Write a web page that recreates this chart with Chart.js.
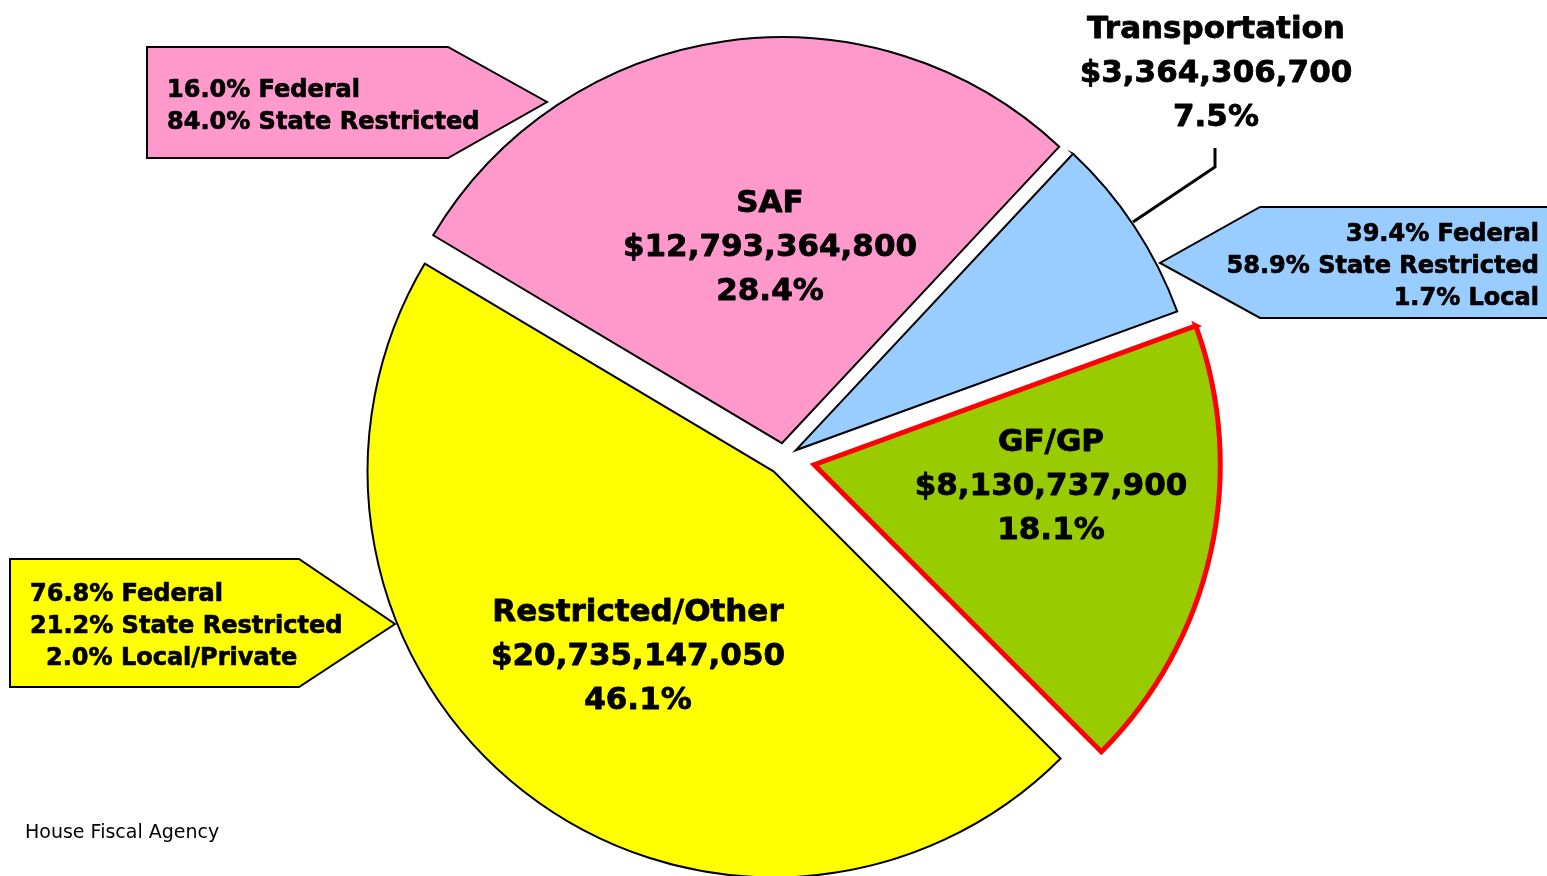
<!DOCTYPE html>
<html>
<head>
<meta charset="utf-8">
<title>Budget by Fund Source</title>
<script src="https://cdn.jsdelivr.net/npm/chart.js@4.4.1/dist/chart.umd.min.js"></script>
<style>
  html, body { margin: 0; padding: 0; background: #fff; overflow: hidden; }
  #chart-funds { display: block; }
</style>
</head>
<body>
<canvas id="chart-funds" width="1547" height="876"></canvas>
<script>
// Fund sources, in drawing order (clockwise from the SAF slice)
const categories = ["SAF", "Transportation", "GF/GP", "Restricted/Other"];
const amounts = [12793364800, 3364306700, 8130737900, 20735147050];
const fills = ["#FF99CC", "#99CCFF", "#99CC00", "#FFFF00"];
const borders = ["#000000", "#000000", "#FF0000", "#000000"];
const borderWidths = [2, 2, 5, 2];

// Breakdown of each fund source (GF/GP has none)
const splitLines = [
  ["16.0% Federal", "84.0% State Restricted"],
  ["39.4% Federal", "58.9% State Restricted", "1.7% Local"],
  null,
  ["76.8% Federal", "21.2% State Restricted", "2.0% Local/Private"]
];

// how far each slice is pulled out from the middle (px)
const explode = [15, 14, 31, 17];

const total = amounts.reduce((s, v) => s + v, 0);
const BOLD = "bold 31px 'DejaVu Sans', Verdana, sans-serif";
const SMALL_BOLD = "bold 24px 'DejaVu Sans', Verdana, sans-serif";

// slice title blocks: x centre + baseline of first line
const titlePos = [
  { x: 770, y: 212 },
  { x: 1216, y: 38 },
  { x: 1051, y: 451 },
  { x: 638, y: 621 }
];

// callout boxes with arrow tips pointing at the slices
const callouts = [
  { shape: [[147, 47], [448, 47], [547, 102], [448, 158], [147, 158]], x: 167, y: 97, align: "left", indent: [0, 0] },
  { shape: [[1560, 207], [1260, 207], [1160, 263], [1260, 318], [1560, 318]], x: 1539, y: 241, align: "right", indent: [0, 0, 0] },
  null,
  { shape: [[10, 559], [299, 559], [395, 624], [299, 687], [10, 687]], x: 30, y: 601, align: "left", indent: [0, 0, 16] }
];

function money(v) {
  return "$" + v.toLocaleString("en-US");
}

function pct(v) {
  return (v / total * 100).toFixed(1) + "%";
}

// heavier bold: fill plus a hairline stroke
function boldText(ctx, text, x, y) {
  ctx.fillText(text, x, y);
  ctx.strokeText(text, x, y);
}

const explodePlugin = {
  id: "explode",
  afterUpdate(chart) {
    const meta = chart.getDatasetMeta(0);
    meta.data.forEach((arc, i) => {
      const mid = (arc.startAngle + arc.endAngle) / 2;
      arc.x += Math.cos(mid) * explode[i];
      arc.y += Math.sin(mid) * explode[i];
    });
  }
};

const labelsPlugin = {
  id: "fundLabels",
  afterDatasetsDraw(chart) {
    const ctx = chart.ctx;
    ctx.save();

    // Callout boxes
    callouts.forEach((c, i) => {
      if (!c) return;
      ctx.beginPath();
      c.shape.forEach((p, j) => j === 0 ? ctx.moveTo(p[0], p[1]) : ctx.lineTo(p[0], p[1]));
      ctx.closePath();
      ctx.fillStyle = fills[i];
      ctx.fill();
      ctx.lineWidth = 2;
      ctx.strokeStyle = "#000";
      ctx.lineJoin = "miter";
      ctx.stroke();

      ctx.fillStyle = "#000";
      ctx.lineWidth = 0.7;
      ctx.lineJoin = "round";
      ctx.font = SMALL_BOLD;
      ctx.textAlign = c.align;
      ctx.textBaseline = "alphabetic";
      splitLines[i].forEach((line, k) => {
        boldText(ctx, line, c.x + c.indent[k], c.y + k * 32);
      });
    });

    // leader line for the Transportation title
    ctx.beginPath();
    ctx.moveTo(1133, 222);
    ctx.lineTo(1215, 167);
    ctx.lineTo(1215, 148);
    ctx.lineWidth = 3;
    ctx.strokeStyle = "#000";
    ctx.lineJoin = "miter";
    ctx.stroke();

    // slice titles
    ctx.fillStyle = "#000";
    ctx.lineWidth = 0.8;
    ctx.lineJoin = "round";
    ctx.font = BOLD;
    ctx.textAlign = "center";
    ctx.textBaseline = "alphabetic";
    categories.forEach((name, i) => {
      const p = titlePos[i];
      const lines = [name, money(amounts[i]), pct(amounts[i])];
      lines.forEach((line, k) => boldText(ctx, line, p.x, p.y + k * 44));
    });

    // source note
    ctx.font = "19px 'DejaVu Sans', Tahoma, sans-serif";
    ctx.textAlign = "left";
    ctx.fillText("House Fiscal Agency", 25, 838);

    ctx.restore();
  }
};

const chart = new Chart(document.getElementById("chart-funds"), {
  type: "pie",
  data: {
    labels: categories,
    datasets: [{
      data: amounts,
      backgroundColor: fills,
      borderColor: borders,
      borderWidth: borderWidths,
      borderJoinStyle: "miter"
    }]
  },
  options: {
    responsive: false,
    devicePixelRatio: 1,
    animation: false,
    events: [],
    rotation: -59.2,
    radius: 406,
    layout: { padding: { left: 21, top: 40, right: 0, bottom: 0 } },
    plugins: {
      legend: { display: false },
      tooltip: { enabled: false }
    }
  },
  plugins: [explodePlugin, labelsPlugin]
});
</script>
</body>
</html>
